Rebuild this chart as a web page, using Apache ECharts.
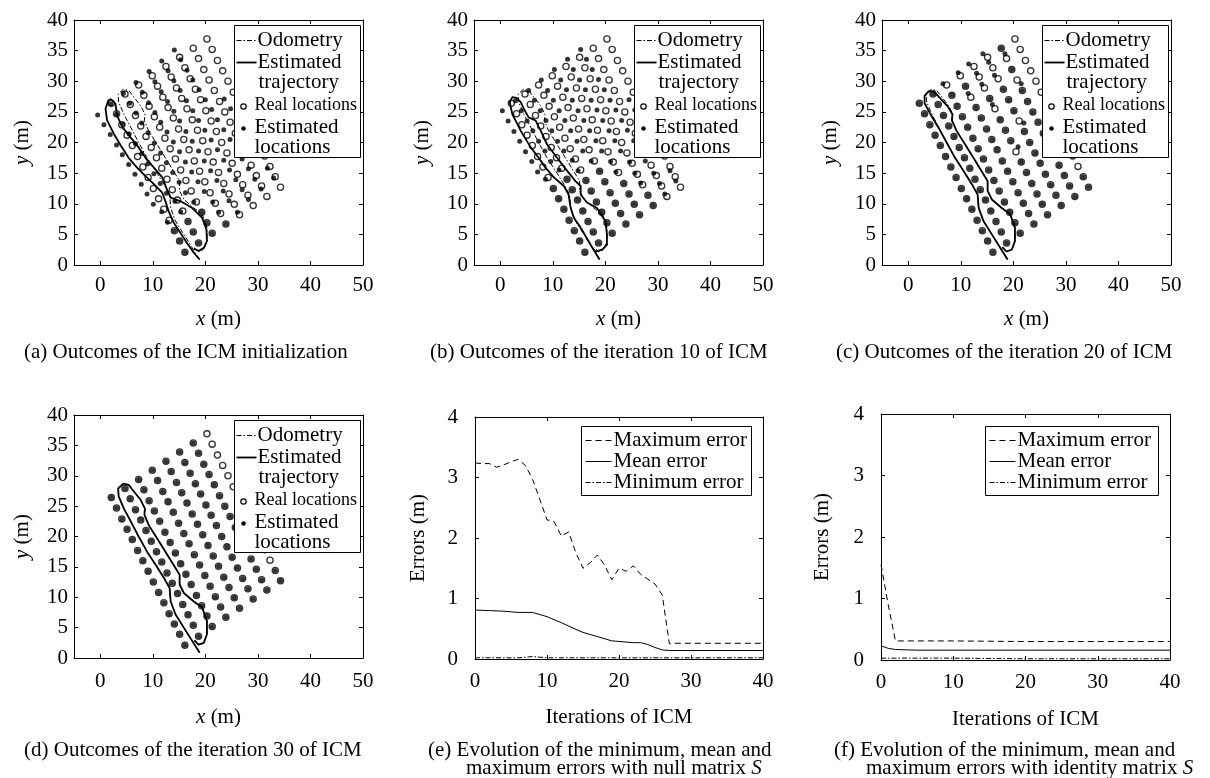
<!DOCTYPE html>
<html>
<head>
<meta charset="utf-8">
<title>ICM outcomes</title>
<script src="https://cdn.jsdelivr.net/npm/echarts@6/dist/echarts.min.js"></script>
<style>
html, body { margin: 0; padding: 0; background: #ffffff; }
#chart { width: 1210px; height: 778px; }
</style>
</head>
<body>
<div id="chart"></div>
<script>
// ---- data ----
var X_TICKS = [0, 10, 20, 30, 40, 50];

// real landmark positions (same in every map panel)
var REAL_LOC = [
  [2.1,26.4],[3.1,24.7],[4.1,22.9],[5.1,21.2],[6.1,19.5],[7.1,17.7],[8.1,16.0],[9.1,14.3],[10.1,12.5],[11.1,10.8],[12.1,9.1],[13.1,7.3],[14.1,5.6],[15.1,3.9],[16.1,2.1],
  [4.7,27.9],[5.7,26.2],[6.7,24.4],[7.7,22.7],[8.7,21.0],[9.7,19.2],[10.7,17.5],[11.7,15.8],[12.7,14.0],[13.7,12.3],[14.7,10.6],[15.7,8.8],[16.7,7.1],[17.7,5.4],[18.7,3.6],
  [7.3,29.4],[8.3,27.7],[9.3,25.9],[10.3,24.2],[11.3,22.5],[12.3,20.7],[13.3,19.0],[14.3,17.3],[15.3,15.5],[16.3,13.8],[17.3,12.1],[18.3,10.3],[19.3,8.6],[20.3,6.9],[21.3,5.2],
  [9.9,30.9],[10.9,29.2],[11.9,27.4],[12.9,25.7],[13.9,24.0],[14.9,22.2],[15.9,20.5],[16.9,18.8],[17.9,17.0],[18.9,15.3],[19.9,13.6],[20.9,11.8],[21.9,10.1],[22.9,8.4],[23.9,6.7],
  [12.5,32.4],[13.5,30.7],[14.5,28.9],[15.5,27.2],[16.5,25.5],[17.5,23.7],[18.5,22.0],[19.5,20.3],[20.5,18.5],[21.5,16.8],[22.5,15.1],[23.5,13.3],[24.5,11.6],[25.5,9.9],[26.5,8.2],
  [15.1,33.9],[16.1,32.2],[17.1,30.4],[18.1,28.7],[19.1,27.0],[20.1,25.2],[21.1,23.5],[22.1,21.8],[23.1,20.0],[24.1,18.3],[25.1,16.6],[26.1,14.8],[27.1,13.1],[28.1,11.4],[29.1,9.7],
  [17.7,35.4],[18.7,33.7],[19.7,31.9],[20.7,30.2],[21.7,28.5],[22.7,26.7],[23.7,25.0],[24.7,23.3],[25.7,21.5],[26.7,19.8],[27.7,18.1],[28.7,16.3],[29.7,14.6],[30.7,12.9],[31.7,11.2],
  [20.3,36.9],[21.3,35.2],[22.3,33.4],[23.3,31.7],[24.3,30.0],[25.3,28.2],[26.3,26.5],[27.3,24.8],[28.3,23.0],[29.3,21.3],[30.3,19.6],[31.3,17.8],[32.3,16.1],[33.3,14.4],[34.3,12.7]
];

// estimated landmarks, ICM initialization (a)
var EST_A = [
  [-0.5,24.5],[0.7,22.9],[1.9,21.3],[3.1,19.6],[4.2,18.0],[5.4,16.4],[6.6,14.8],[7.8,13.2],[8.9,11.6],[10.1,9.9],[11.7,8.7],[12.8,7.0],[14.1,5.6],[15.1,3.9],[16.1,2.1],
  [2.0,26.3],[3.1,24.6],[4.3,23.0],[5.5,21.4],[6.7,19.8],[7.9,18.2],[9.0,16.5],[10.2,14.9],[11.4,13.3],[12.6,11.7],[14.2,10.4],[15.3,8.7],[16.7,7.1],[17.7,5.4],[18.7,3.6],
  [4.4,28.0],[5.6,26.4],[6.8,24.8],[7.9,23.2],[9.1,21.6],[10.3,19.9],[11.5,18.3],[12.6,16.7],[13.8,15.1],[15.0,13.5],[16.2,11.8],[17.8,10.3],[19.3,8.6],[20.3,6.9],[21.3,5.2],
  [6.8,29.8],[8.0,28.2],[9.2,26.5],[10.4,24.9],[11.5,23.3],[12.7,21.7],[13.9,20.1],[15.1,18.5],[16.2,16.8],[17.4,15.2],[18.6,13.6],[19.8,12.0],[21.4,10.3],[22.5,8.6],[23.9,6.7],
  [9.3,31.6],[10.4,29.9],[11.6,28.3],[12.8,26.7],[14.0,25.1],[15.1,23.5],[16.3,21.8],[17.5,20.2],[18.7,18.6],[19.8,17.0],[21.0,15.4],[22.2,13.8],[23.4,12.1],[24.5,10.5],[26.1,8.6],
  [11.7,33.3],[12.9,31.7],[14.0,30.1],[15.2,28.5],[16.4,26.8],[17.6,25.2],[18.7,23.6],[19.9,22.0],[21.1,20.4],[22.3,18.8],[23.5,17.1],[24.6,15.5],[25.8,13.9],[27.0,12.3],[28.2,10.7],
  [14.1,35.1],[15.3,33.5],[16.5,31.8],[17.6,30.2],[18.8,28.6],[20.0,27.0],[21.2,25.4],[22.3,23.7],[23.5,22.1],[24.7,20.5],[25.9,18.9],[27.0,17.3],[28.2,15.7],[29.4,14.0],[30.6,12.4],
  [23.6,27.1],[24.8,25.5],[25.9,23.9],[27.1,22.3],[28.3,20.7],[29.5,19.0],[31.8,15.8],[33.0,14.2]
];

// estimated landmarks, iteration 10 (b)
var EST_B = [
  [0.4,25.2],[1.5,23.5],[2.6,21.8],[3.7,20.2],[4.8,18.5],[6.0,16.9],[7.1,15.2],[8.6,14.0],[10.1,12.5],[11.1,10.8],[12.1,9.1],[13.1,7.3],[14.1,5.6],[15.1,3.9],[16.1,2.1],
  [2.9,26.8],[4.0,25.2],[5.1,23.5],[6.2,21.9],[7.3,20.2],[8.5,18.6],[9.6,16.9],[11.2,15.5],[12.7,14.0],[13.7,12.3],[14.7,10.6],[15.7,8.8],[16.7,7.1],[17.7,5.4],[18.7,3.6],
  [5.4,28.5],[6.5,26.9],[7.6,25.2],[8.7,23.6],[9.8,21.9],[10.9,20.2],[12.1,18.6],[13.7,17.1],[14.8,15.4],[16.3,13.8],[17.3,12.1],[18.3,10.3],[19.3,8.6],[20.3,6.9],[21.3,5.2],
  [7.8,30.2],[9.0,28.5],[10.1,26.9],[11.2,25.2],[12.3,23.6],[13.4,21.9],[14.6,20.2],[15.7,18.6],[17.3,17.0],[18.9,15.3],[19.9,13.6],[20.9,11.8],[21.9,10.1],[22.9,8.4],[23.9,6.7],
  [10.3,31.9],[11.5,30.2],[12.6,28.6],[13.7,26.9],[14.8,25.2],[15.9,23.6],[17.0,21.9],[18.2,20.3],[19.3,18.6],[21.0,16.9],[22.0,15.2],[23.5,13.3],[24.5,11.6],[25.5,9.9],[26.5,8.2],
  [12.8,33.6],[13.9,31.9],[15.1,30.2],[16.2,28.6],[17.3,26.9],[18.4,25.3],[19.5,23.6],[20.7,21.9],[21.8,20.3],[22.9,18.6],[24.6,16.8],[25.6,15.0],[26.7,13.4],[28.1,11.4],[29.1,9.7],
  [15.3,35.2],[16.4,33.6],[17.5,31.9],[18.7,30.3],[19.8,28.6],[20.9,26.9],[22.0,25.3],[23.1,23.6],[24.2,22.0],[25.4,20.3],[26.5,18.7],[27.6,17.0],[29.2,15.0],[30.3,13.3],[31.3,11.6],
  [24.5,27.0],[25.6,25.3],[26.7,23.6],[27.9,22.0],[29.0,20.3],[30.1,18.7],[32.3,15.4],[33.4,13.7]
];

// estimated landmarks, iteration 20 (c)
var EST_C = [
  [2.1,26.4],[3.1,24.7],[4.1,22.9],[5.1,21.2],[6.1,19.5],[7.1,17.7],[8.1,16.0],[9.1,14.3],[10.1,12.5],[11.1,10.8],[12.1,9.1],[13.1,7.3],[14.1,5.6],[15.1,3.9],[16.1,2.1],
  [4.7,27.9],[5.7,26.2],[6.7,24.4],[7.7,22.7],[8.7,21.0],[9.7,19.2],[10.7,17.5],[11.7,15.8],[12.7,14.0],[13.7,12.3],[14.7,10.6],[15.7,8.8],[16.7,7.1],[17.7,5.4],[18.7,3.6],
  [6.6,29.6],[8.3,27.7],[9.3,25.9],[10.3,24.2],[11.3,22.5],[12.3,20.7],[13.3,19.0],[14.3,17.3],[15.3,15.5],[16.3,13.8],[17.3,12.1],[18.3,10.3],[19.3,8.6],[20.3,6.9],[21.3,5.2],
  [9.5,31.4],[10.9,29.2],[11.4,28.0],[12.9,25.7],[13.9,24.0],[14.9,22.2],[15.9,20.5],[16.9,18.8],[17.9,17.0],[18.9,15.3],[19.9,13.6],[20.9,11.8],[21.9,10.1],[22.9,8.4],[23.9,6.7],
  [11.5,32.8],[13.0,31.3],[14.0,29.5],[15.5,27.2],[16.0,26.2],[17.5,23.7],[18.5,22.0],[19.5,20.3],[20.9,19.3],[21.5,16.8],[22.5,15.1],[23.5,13.3],[24.5,11.6],[25.5,9.9],[26.5,8.2],
  [14.2,34.5],[15.3,33.1],[16.4,31.0],[18.1,28.7],[19.1,27.0],[20.1,25.2],[22.0,23.2],[22.1,21.8],[23.1,20.0],[24.1,18.3],[25.1,16.6],[26.1,14.8],[27.1,13.1],[28.1,11.4],[29.1,9.7],
  [17.7,35.4],[18.4,34.5],[19.7,31.9],[21.5,29.6],[21.7,28.5],[22.7,26.7],[23.7,25.0],[24.7,23.3],[25.7,21.5],[26.7,19.8],[27.7,18.1],[28.7,16.3],[29.7,14.6],[30.7,12.9],[31.7,11.2],
  [26.3,26.5],[27.3,24.8],[28.3,23.0],[29.3,21.3],[30.3,19.6],[31.3,17.8],[33.3,14.4],[34.3,12.7]
];

// estimated landmarks, iteration 30 (d)
var EST_D = [
  [2.1,26.4],[3.1,24.7],[4.1,22.9],[5.1,21.2],[6.1,19.5],[7.1,17.7],[8.1,16.0],[9.1,14.3],[10.1,12.5],[11.1,10.8],[12.1,9.1],[13.1,7.3],[14.1,5.6],[15.1,3.9],[16.1,2.1],
  [4.7,27.9],[5.7,26.2],[6.7,24.4],[7.7,22.7],[8.7,21.0],[9.7,19.2],[10.7,17.5],[11.7,15.8],[12.7,14.0],[13.7,12.3],[14.7,10.6],[15.7,8.8],[16.7,7.1],[17.7,5.4],[18.7,3.6],
  [7.3,29.4],[8.3,27.7],[9.3,25.9],[10.3,24.2],[11.3,22.5],[12.3,20.7],[13.3,19.0],[14.3,17.3],[15.3,15.5],[16.3,13.8],[17.3,12.1],[18.3,10.3],[19.3,8.6],[20.3,6.9],[21.3,5.2],
  [9.9,30.9],[10.9,29.2],[11.9,27.4],[12.9,25.7],[13.9,24.0],[14.9,22.2],[15.9,20.5],[16.9,18.8],[17.9,17.0],[18.9,15.3],[19.9,13.6],[20.9,11.8],[21.9,10.1],[22.9,8.4],[23.9,6.7],
  [12.5,32.4],[13.5,30.7],[14.5,28.9],[15.5,27.2],[16.5,25.5],[17.5,23.7],[18.5,22.0],[19.5,20.3],[20.5,18.5],[21.5,16.8],[22.5,15.1],[23.5,13.3],[24.5,11.6],[25.5,9.9],[26.5,8.2],
  [15.1,33.9],[16.1,32.2],[17.1,30.4],[18.1,28.7],[19.1,27.0],[20.1,25.2],[21.1,23.5],[22.1,21.8],[23.1,20.0],[24.1,18.3],[25.1,16.6],[26.1,14.8],[27.1,13.1],[28.1,11.4],[29.1,9.7],
  [17.7,35.4],[18.7,33.7],[19.7,31.9],[20.7,30.2],[21.7,28.5],[22.7,26.7],[23.7,25.0],[24.7,23.3],[25.7,21.5],[26.7,19.8],[27.7,18.1],[28.7,16.3],[29.7,14.6],[30.7,12.9],[31.7,11.2],
  [26.3,26.5],[27.3,24.8],[28.3,23.0],[29.3,21.3],[30.3,19.6],[31.3,17.8],[33.3,14.4],[34.3,12.7]
];

// robot paths
var ODOMETRY = [
  [18.9,0.9],[17.5,2.8],[15.9,5.0],[14.3,7.2],[13.4,9.3],[13.2,11.5],[12.1,13.2],[10.5,15.4],[8.9,17.5],[7.3,20.0],[5.8,22.5],[4.5,24.6],[3.5,26.6],[3.4,27.9],[4.4,28.7],[5.4,28.5],[6.4,27.4],[7.7,26.0],[8.5,24.6],[8.4,23.6],[9.2,21.9],[10.8,19.7],[12.4,17.5],[13.9,15.4],[15.1,13.7],[15.1,12.1],[15.9,10.7],[17.8,9.3],[19.4,8.3],[20.3,6.1],[20.3,3.9],[19.7,2.5],[18.7,2.2],[17.9,2.9]
];
var TRAJ_A = [
  [18.9,0.9],[17.8,2.0],[16.5,3.6],[15.3,5.2],[14.0,6.9],[13.0,8.8],[12.4,10.4],[11.8,11.8],[10.2,13.2],[8.6,14.5],[7.0,15.9],[5.4,17.5],[3.9,19.5],[2.6,21.4],[1.3,23.6],[1.0,25.5],[1.5,26.8],[2.0,27.1],[2.9,26.3],[3.2,24.4],[4.2,22.5],[5.8,20.8],[7.3,19.2],[8.6,17.5],[10.2,15.9],[11.8,14.3],[12.7,12.3],[13.4,11.0],[15.3,10.4],[17.5,9.3],[19.4,7.7],[20.2,5.8],[20.3,3.9],[19.7,2.8],[18.7,2.3],[17.8,2.7]
];
var TRAJ_B = [
  [18.9,0.9],[17.2,3.3],[15.3,6.1],[14.0,7.7],[13.4,9.3],[13.0,11.5],[12.1,12.9],[10.2,14.3],[8.6,15.9],[7.3,17.5],[5.8,19.2],[3.9,21.9],[2.9,23.6],[2.3,24.6],[1.8,26.6],[2.3,27.4],[3.1,27.3],[3.9,26.6],[4.5,25.5],[5.4,24.1],[6.7,23.6],[7.7,21.9],[8.9,19.7],[10.8,17.5],[12.7,15.4],[14.3,13.7],[15.3,12.9],[15.3,11.5],[16.5,10.2],[18.4,9.3],[20.0,7.2],[20.3,5.0],[20.3,3.3],[19.4,2.5],[18.1,2.2],[17.5,2.8]
];
var TRAJ_C = [
  [18.9,0.9],[17.5,2.8],[15.9,5.0],[14.3,7.2],[13.4,9.3],[13.2,11.5],[12.1,13.2],[10.5,15.4],[8.9,17.5],[7.3,20.0],[5.7,22.5],[4.3,24.5],[3.1,26.4],[3.1,27.6],[3.9,28.4],[4.9,28.3],[6.0,27.3],[7.5,25.9],[8.4,24.6],[8.3,23.6],[9.2,21.9],[10.8,19.7],[12.4,17.5],[13.9,15.4],[15.1,13.7],[15.1,12.1],[15.9,10.7],[17.8,9.3],[19.4,8.3],[20.3,6.1],[20.3,3.9],[19.7,2.5],[18.7,2.2],[17.9,2.9]
];
var TRAJ_D = ODOMETRY;

// error curves (e) null matrix S
var E_MAX = [[0,3.24],[1,3.23],[2,3.23],[3,3.17],[4,3.21],[5,3.26],[6,3.3],[7,3.2],[8,2.97],[9,2.64],[10,2.3],[11,2.27],[12,2.03],[13,2.1],[14,1.76],[15,1.5],[16,1.59],[17,1.72],[18,1.55],[19,1.31],[20,1.5],[21,1.45],[22,1.54],[23,1.4],[24,1.32],[25,1.24],[26,1.06],[27,0.25],[28,0.26],[30,0.26],[35,0.26],[40,0.26]];
var E_MEAN = [[0,0.81],[2,0.8],[4,0.79],[6,0.77],[8,0.77],[10,0.7],[12,0.6],[14,0.49],[15,0.44],[17,0.37],[19,0.3],[20,0.29],[22,0.27],[23,0.27],[24,0.24],[25,0.19],[26,0.15],[27,0.14],[30,0.14],[35,0.14],[40,0.14]];
var E_MIN = [[0,0.02],[4,0.02],[6,0.02],[7,0.03],[8,0.04],[9,0.03],[10,0.02],[20,0.02],[30,0.02],[40,0.02]];
// error curves (f) identity matrix S
var F_MAX = [[0,1.55],[1,0.9],[2,0.31],[5,0.31],[10,0.31],[20,0.3],[30,0.3],[40,0.3]];
var F_MEAN = [[0,0.23],[1,0.19],[2,0.17],[5,0.16],[20,0.16],[40,0.16]];
var F_MIN = [[0,0.03],[10,0.03],[20,0.02],[40,0.02]];

// ---- layout ----
var FONT = 'Liberation Serif';
var FS = 21;
var DASHDOT = [5, 2, 1.5, 2];

var panels = [
  { left: 74,  top: 20,  width: 289, height: 245, map: true, est: EST_A, traj: TRAJ_A, lm: 10, xg: 44 },
  { left: 474, top: 20,  width: 289, height: 245, map: true, est: EST_B, traj: TRAJ_B, lm: 10, xg: 44 },
  { left: 882, top: 20,  width: 289, height: 245, map: true, est: EST_C, traj: TRAJ_C, lm: 10, xg: 44 },
  { left: 74,  top: 415, width: 289, height: 243, map: true, est: EST_D, traj: TRAJ_D, lm: 13, xg: 49 },
  { left: 475, top: 417, width: 288, height: 242, map: false, max: E_MAX, mean: E_MEAN, min: E_MIN, lm: 12, xg: 48, yg: 46 },
  { left: 881, top: 414, width: 289, height: 246, map: false, max: F_MAX, mean: F_MEAN, min: F_MIN, lm: 12, xg: 49, yg: 48 }
];

var labelStyle = { color: '#000', fontFamily: FONT, fontSize: FS };
var nameStyle = {
  color: '#000', fontFamily: FONT, fontSize: FS,
  rich: { i: { fontStyle: 'italic', fontFamily: FONT, fontSize: FS, color: '#000' } }
};
var lineBlack = { color: '#000', width: 1 };

var grids = [], xAxes = [], yAxes = [], series = [], graphics = [];

panels.forEach(function (p, k) {
  grids.push({ left: p.left, top: p.top, width: p.width, height: p.height, containLabel: false, outerBoundsMode: 'none' });
  var xb = {
    gridIndex: k, type: 'value', position: 'bottom',
    axisLine: { show: true, onZero: false, lineStyle: lineBlack },
    axisTick: { show: true, inside: true, length: 4, lineStyle: lineBlack },
    axisLabel: Object.assign({ margin: p.lm }, labelStyle),
    splitLine: { show: false },
    nameLocation: 'middle', nameGap: p.xg, nameTextStyle: nameStyle
  };
  var yl = {
    gridIndex: k, type: 'value', position: 'left',
    axisLine: { show: true, onZero: false, lineStyle: lineBlack },
    axisTick: { show: true, inside: true, length: 4, lineStyle: lineBlack },
    axisLabel: Object.assign({ margin: p.map ? 6 : 17 }, labelStyle),
    splitLine: { show: false },
    nameLocation: 'middle', nameTextStyle: nameStyle
  };
  if (p.map) {
    xb.min = -5; xb.max = 50;
    xb.axisTick.customValues = X_TICKS;
    xb.axisLabel.customValues = X_TICKS;
    xb.name = '{i|x} (m)';
    yl.min = 0; yl.max = 40; yl.interval = 5;
    yl.name = '{i|y} (m)'; yl.nameGap = 41;
  } else {
    xb.min = 0; xb.max = 40; xb.interval = 10;
    xb.name = 'Iterations of ICM';
    yl.min = 0; yl.max = 4; yl.interval = 1;
    yl.name = 'Errors (m)'; yl.nameGap = p.yg;
  }
  var xt = JSON.parse(JSON.stringify(xb));
  xt.position = 'top'; xt.name = ''; xt.axisLabel.show = false;
  var yr = JSON.parse(JSON.stringify(yl));
  yr.position = 'right'; yr.name = ''; yr.axisLabel.show = false;
  xAxes.push(xb, xt);
  yAxes.push(yl, yr);

  var xi = 2 * k, yi = 2 * k;
  if (p.map) {
    series.push(
      { type: 'line', xAxisIndex: xi, yAxisIndex: yi, data: ODOMETRY, symbol: 'none', silent: true, z: 2,
        lineStyle: { color: '#000', width: 1, type: DASHDOT } },
      { type: 'line', xAxisIndex: xi, yAxisIndex: yi, data: p.traj, symbol: 'none', silent: true, z: 3,
        lineStyle: { color: '#000', width: 1.8 } },
      { type: 'scatter', xAxisIndex: xi, yAxisIndex: yi, data: REAL_LOC, symbol: 'circle', symbolSize: 6.2, silent: true, z: 4,
        itemStyle: { color: 'rgba(255,255,255,0)', borderColor: '#000', borderWidth: 1.3 } },
      { type: 'scatter', xAxisIndex: xi, yAxisIndex: yi, data: p.est, symbol: 'circle', symbolSize: 5, silent: true, z: 5,
        itemStyle: { color: '#000' } }
    );
    // legend box
    var bx = p.left + 160.5, by = p.top + 5.5;
    graphics.push(
      { type: 'rect', z: 100, shape: { x: bx, y: by, width: 126, height: 132 }, style: { fill: '#fff', stroke: '#000', lineWidth: 1 } },
      { type: 'line', z: 101, shape: { x1: bx + 2, y1: by + 15, x2: bx + 22, y2: by + 15 }, style: { stroke: '#000', lineWidth: 1, lineDash: DASHDOT } },
      { type: 'text', z: 101, style: { text: 'Odometry', x: bx + 23, y: by + 15, fill: '#000', fontFamily: FONT, fontSize: FS, verticalAlign: 'middle' } },
      { type: 'line', z: 101, shape: { x1: bx + 2, y1: by + 37, x2: bx + 22, y2: by + 37 }, style: { stroke: '#000', lineWidth: 1.8 } },
      { type: 'text', z: 101, style: { text: 'Estimated', x: bx + 23, y: by + 37, fill: '#000', fontFamily: FONT, fontSize: FS, verticalAlign: 'middle' } },
      { type: 'text', z: 101, style: { text: 'trajectory', x: bx + 24, y: by + 57, fill: '#000', fontFamily: FONT, fontSize: FS, verticalAlign: 'middle' } },
      { type: 'circle', z: 101, shape: { cx: bx + 9, cy: by + 81, r: 2.7 }, style: { fill: 'none', stroke: '#000', lineWidth: 1.2 } },
      { type: 'text', z: 101, style: { text: 'Real locations', x: bx + 20, y: by + 80, fill: '#000', fontFamily: FONT, fontSize: 18, verticalAlign: 'middle' } },
      { type: 'circle', z: 101, shape: { cx: bx + 9, cy: by + 103, r: 2.2 }, style: { fill: '#000' } },
      { type: 'text', z: 101, style: { text: 'Estimated', x: bx + 20, y: by + 102, fill: '#000', fontFamily: FONT, fontSize: FS, verticalAlign: 'middle' } },
      { type: 'text', z: 101, style: { text: 'locations', x: bx + 20, y: by + 122, fill: '#000', fontFamily: FONT, fontSize: FS, verticalAlign: 'middle' } }
    );
  } else {
    series.push(
      { type: 'line', xAxisIndex: xi, yAxisIndex: yi, data: p.max, symbol: 'none', silent: true,
        lineStyle: { color: '#000', width: 1, type: [6, 4] } },
      { type: 'line', xAxisIndex: xi, yAxisIndex: yi, data: p.mean, symbol: 'none', silent: true,
        lineStyle: { color: '#000', width: 1 } },
      { type: 'line', xAxisIndex: xi, yAxisIndex: yi, data: p.min, symbol: 'none', silent: true,
        lineStyle: { color: '#000', width: 1, type: DASHDOT } }
    );
    var ex = p.left + (k === 4 ? 106.5 : 104.5), ey = p.top + (k === 4 ? 9.5 : 12.5);
    var ew = k === 4 ? 170 : 173;
    graphics.push(
      { type: 'rect', z: 100, shape: { x: ex, y: ey, width: ew, height: 69 }, style: { fill: '#fff', stroke: '#000', lineWidth: 1 } },
      { type: 'line', z: 101, shape: { x1: ex + 4, y1: ey + 14, x2: ex + 30, y2: ey + 14 }, style: { stroke: '#000', lineWidth: 1, lineDash: [6, 4] } },
      { type: 'text', z: 101, style: { text: 'Maximum error', x: ex + 32, y: ey + 14, fill: '#000', fontFamily: FONT, fontSize: FS, verticalAlign: 'middle' } },
      { type: 'line', z: 101, shape: { x1: ex + 4, y1: ey + 35, x2: ex + 30, y2: ey + 35 }, style: { stroke: '#000', lineWidth: 1 } },
      { type: 'text', z: 101, style: { text: 'Mean error', x: ex + 32, y: ey + 35, fill: '#000', fontFamily: FONT, fontSize: FS, verticalAlign: 'middle' } },
      { type: 'line', z: 101, shape: { x1: ex + 4, y1: ey + 56, x2: ex + 30, y2: ey + 56 }, style: { stroke: '#000', lineWidth: 1, lineDash: DASHDOT } },
      { type: 'text', z: 101, style: { text: 'Minimum error', x: ex + 32, y: ey + 56, fill: '#000', fontFamily: FONT, fontSize: FS, verticalAlign: 'middle' } }
    );
  }
});

// captions
var capRich = { i: { fontStyle: 'italic', fontFamily: FONT, fontSize: FS, fill: '#000' } };
function caption(text, x, y) {
  return { type: 'text', z: 101, style: { text: text, x: x, y: y, fill: '#000', fontFamily: FONT, fontSize: FS, verticalAlign: 'middle', rich: capRich } };
}
graphics.push(
  caption('(a) Outcomes of the ICM initialization', 24, 352),
  caption('(b) Outcomes of the iteration 10 of ICM', 430, 352),
  caption('(c) Outcomes of the iteration 20 of ICM', 836, 352),
  caption('(d) Outcomes of the iteration 30 of ICM', 24, 750),
  caption('(e) Evolution of the minimum, mean and', 428, 750),
  caption('maximum errors with null matrix {i|S}', 466, 768),
  caption('(f) Evolution of the minimum, mean and', 834, 750),
  caption('maximum errors with identity matrix {i|S}', 866, 768)
);

var chart = echarts.init(document.getElementById('chart'), null, { renderer: 'canvas' });
chart.setOption({
  animation: false,
  backgroundColor: '#fff',
  grid: grids,
  xAxis: xAxes,
  yAxis: yAxes,
  series: series,
  graphic: { elements: graphics }
});
</script>
</body>
</html>
